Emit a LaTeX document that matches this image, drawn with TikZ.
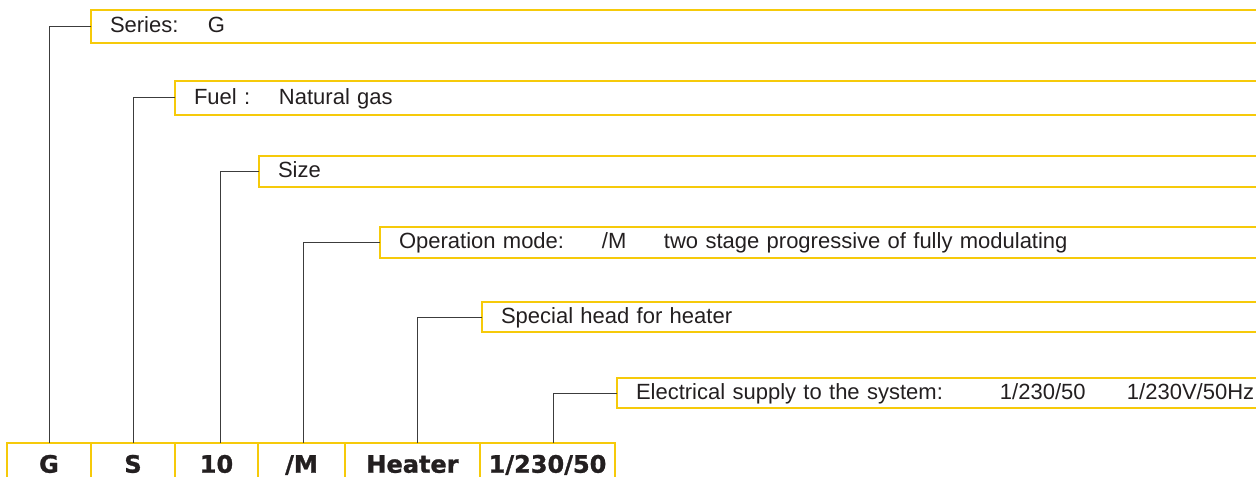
\documentclass[tikz,border=0pt]{standalone}
\usepackage{fontspec}
\setmainfont{Liberation Sans}
\newfontfamily\codefont{DejaVu Sans}[BoldFeatures={FakeBold=1.2}]
\usepackage{xcolor}
\usepackage{tikz}
\usetikzlibrary{positioning}

\definecolor{tagyellow}{RGB}{246,202,10}
\definecolor{inkgray}{RGB}{35,31,32}
\definecolor{leadgray}{RGB}{60,60,60}

\begin{document}
\begin{tikzpicture}[
  x=0.5pt, y=-0.5pt,
  font=\fontsize{11}{13}\selectfont,
  text=inkgray,
  tagbox/.style={draw=tagyellow, line width=0.8pt, anchor=north west,
                 inner xsep=9.5pt, inner ysep=0pt, outer sep=0pt, align=left,
                 text height=7.9pt, text depth=1.5pt},
  cell/.style={draw=tagyellow, line width=0.8pt, outer sep=0pt,
               minimum height=21pt, inner xsep=2pt,
               font=\codefont\bfseries\fontsize{12}{14}\selectfont,
               text height=8.7pt, text depth=0pt},
  lead/.style={draw=leadgray, line width=0.5pt},
]
\useasboundingbox (0,0) rectangle (1256,476);
\clip (0,0) rectangle (1256,476);

% code cells
\node[cell, anchor=north west, minimum width=42pt] (cG) at (7,443) {G};
\node[cell, minimum width=42pt, right=0pt of cG] (cS) {S};
\node[cell, minimum width=41.5pt, right=0pt of cS] (c10) {10};
\node[cell, minimum width=43.5pt, right=0pt of c10] (cM) {/M};
\node[cell, minimum width=67.5pt, right=0pt of cM] (cHeat) {Heater};
\node[cell, minimum width=67.5pt, right=0pt of cHeat] (cVolt) {1/230/50};

% explanation boxes
\node[tagbox, text width=570.5pt, minimum height=16.5pt] (series) at (91,10)
  {\makebox[49pt][l]{Series:}G};
\node[tagbox, text width=528.5pt, minimum height=17pt] (fuel) at (175,81)
  {\makebox[42.5pt][l]{Fuel :}Natural gas};
\node[tagbox, text width=486.5pt, minimum height=15.5pt] (size) at (259,156)
  {Size};
\node[tagbox, text width=426pt, minimum height=15.5pt] (mode) at (380,227)
  {\makebox[101.5pt][l]{Operation mode:}\makebox[31pt][l]{/M}two stage progressive of fully modulating};
\node[tagbox, text width=375pt, minimum height=15pt] (head) at (482,302)
  {Special head for heater};
\node[tagbox, text width=307.5pt, minimum height=15pt] (supply) at (617,378)
  {\makebox[182pt][l]{Electrical supply to the system:}\makebox[63.5pt][l]{1/230/50}1/230V/50Hz};

% leaders
\draw[lead] (series.west) -| (cG.north);
\draw[lead] (fuel.west) -| (cS.north);
\draw[lead] (size.west) -| ([xshift=1.75pt]c10.north);
\draw[lead] (mode.west) -| ([xshift=0.75pt]cM.north);
\draw[lead] (head.west) -| ([xshift=2.25pt]cHeat.north);
\draw[lead] (supply.west) -| ([xshift=2.75pt]cVolt.north);
\end{tikzpicture}
\end{document}
